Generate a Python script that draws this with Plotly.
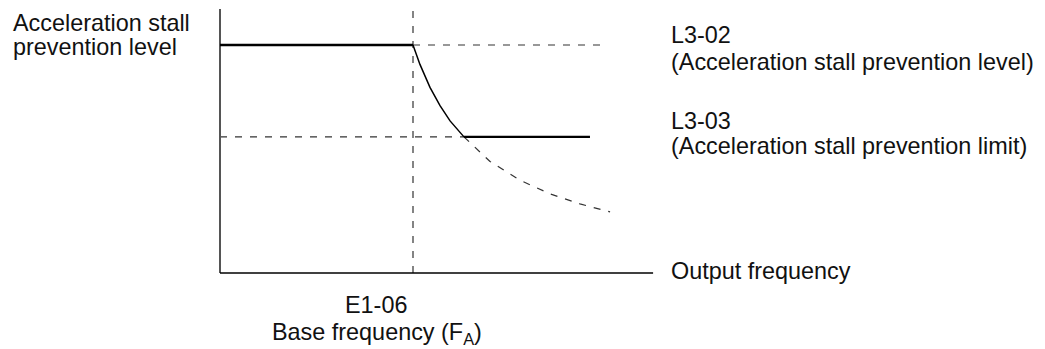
import plotly.graph_objects as go

# ---- data (frequency in % of base frequency, level in % of L3-02) ----
base_freq = 100.0
l3_02 = 100.0
l3_03 = 59.7
f_max_axis = 224.4
level_top = 115.8

# solid decaying part of the curve
curve_f = [100.0, 103.6, 108.8, 114.0, 119.2, 126.4]
curve_lv = [100.0, 91.5, 81.4, 73.4, 66.7, 59.7]
# dashed continuation
tail_f = [126.4, 139.9, 155.4, 171.0, 186.5, 202.1]
tail_lv = [59.7, 48.9, 40.7, 34.7, 30.3, 26.8]
limit_end_f = 191.7
level_dash_end_f = 201.0

W, H = 1045, 349
# pixel mapping helpers for the axes ranges
x0px, sx = 220.0, 1.93
y0px, sy = 273.0, 2.28
xr = [(0 - x0px) / sx, (W - x0px) / sx]
yr = [(y0px - H) / sy, y0px / sy]

fig = go.Figure()

def line(x, y, color="black", width=2.0, dash=None):
    fig.add_trace(go.Scatter(x=x, y=y, mode="lines", hoverinfo="skip",
                             line=dict(color=color, width=width, dash=dash),
                             showlegend=False))

DASH = "7px,8px"
DCOL = "#333333"
# dashed guides
line([base_freq, base_freq], [0, level_top], DCOL, 1.2, DASH)
line([base_freq, level_dash_end_f], [l3_02, l3_02], DCOL, 1.2, DASH)
line([0, tail_f[0]], [l3_03, l3_03], DCOL, 1.2, DASH)
line(tail_f, tail_lv, DCOL, 1.2, DASH)
# axes
line([0, 0], [0, level_top], "#555555", 2.0)
line([0, f_max_axis], [0, 0], "black", 1.6)
# solid characteristic
line([0, base_freq], [l3_02, l3_02], "black", 2.4)
line(curve_f, curve_lv, "black", 1.5)
line([curve_f[-1], limit_end_f], [l3_03, l3_03], "black", 2.4)

FONT = dict(family="Liberation Sans, Arial, Helvetica, sans-serif", size=23.4, color="#111111")

def label(text, xpx, ypx, xanchor="left"):
    fig.add_annotation(text=text, x=xpx / W, y=1 - ypx / H, xref="paper", yref="paper",
                       xanchor=xanchor, yanchor="middle", showarrow=False, font=FONT)

label("Acceleration stall", 11, 23)
label("prevention level", 11, 47)
label("L3-02", 669, 35)
label("(Acceleration stall prevention level)", 669, 62)
label("L3-03", 669, 121)
label("(Acceleration stall prevention limit)", 669, 146)
label("Output frequency", 669, 271)
label("E1-06", 376, 305, "center")
label("Base frequency (F<sub>A</sub>)", 377, 333, "center")

fig.update_layout(
    width=W, height=H, margin=dict(l=0, r=0, t=0, b=0),
    paper_bgcolor="white", plot_bgcolor="white",
    xaxis=dict(range=xr, visible=False, fixedrange=True),
    yaxis=dict(range=yr, visible=False, fixedrange=True),
)
fig.write_html("out.html", config={"displayModeBar": False, "staticPlot": True},
               post_script="document.body.style.margin='0';document.body.style.padding='0';document.body.style.overflow='hidden';")
